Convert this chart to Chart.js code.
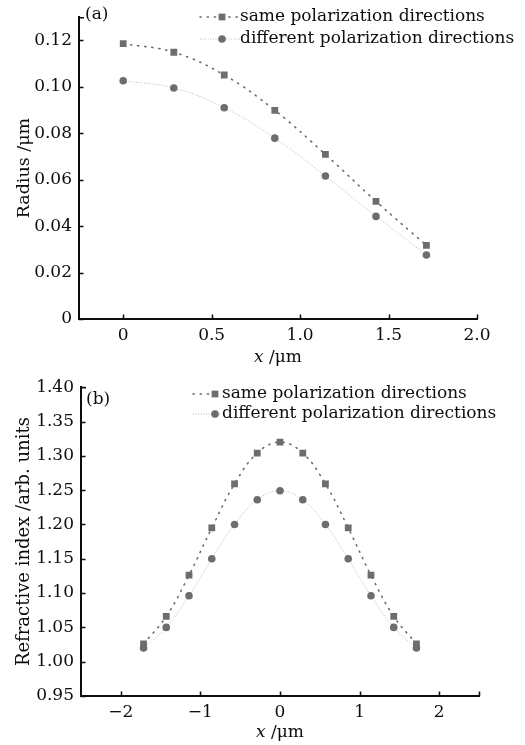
<!DOCTYPE html>
<html>
<head>
<meta charset="utf-8">
<script src="https://cdn.jsdelivr.net/npm/chart.js@4.4.1/dist/chart.umd.min.js"></script>
<style>
  html, body { margin: 0; padding: 0; background: #fff; }
  #wrap { position: relative; width: 525px; height: 745px; }
  #ca { position: absolute; left: 0; top: 0; }
  #cb { position: absolute; left: 0; top: 370px; }
</style>
</head>
<body>
<div id="wrap">
  <canvas id="ca" width="525" height="370"></canvas>
  <canvas id="cb" width="525" height="375"></canvas>
</div>
<script>
// ---- panel (a): radius vs x ----
const radiusX        = [0, 0.286, 0.571, 0.857, 1.143, 1.429, 1.714];
const radiusSame     = [0.1186, 0.1149, 0.1051, 0.0899, 0.0709, 0.0507, 0.0317];
const radiusDiff     = [0.1026, 0.0995, 0.0910, 0.0779, 0.0616, 0.0442, 0.0276];
const radiusXTicks   = [0, 0.5, 1.0, 1.5, 2.0];
const radiusXLabels  = ['0', '0.5', '1.0', '1.5', '2.0'];
const radiusYTicks   = [0, 0.02, 0.04, 0.06, 0.08, 0.10, 0.12];
const radiusYLabels  = ['0', '0.02', '0.04', '0.06', '0.08', '0.10', '0.12'];

// ---- panel (b): refractive index vs x ----
const indexX         = [-1.714, -1.429, -1.143, -0.857, -0.571, -0.286, 0, 0.286, 0.571, 0.857, 1.143, 1.429, 1.714];
const indexSame      = [1.026, 1.066, 1.126, 1.195, 1.259, 1.304, 1.320, 1.304, 1.259, 1.195, 1.126, 1.066, 1.026];
const indexDiff      = [1.020, 1.050, 1.096, 1.150, 1.200, 1.236, 1.249, 1.236, 1.200, 1.150, 1.096, 1.050, 1.020];
const indexXTicks    = [-2, -1, 0, 1, 2];
const indexXLabels   = ['\u22122', '\u22121', '0', '1', '2'];
const indexYTicks    = [0.95, 1.00, 1.05, 1.10, 1.15, 1.20, 1.25, 1.30, 1.35, 1.40];
const indexYLabels   = ['0.95', '1.00', '1.05', '1.10', '1.15', '1.20', '1.25', '1.30', '1.35', '1.40'];

const seriesNames = ['same polarization directions', 'different polarization directions'];

const FONT = 'DejaVu Serif';
const INK = '#0d0d0d';
const MARK = '#6d6d6d';

function pairs(xs, ys) { return xs.map((x, i) => ({ x: x, y: ys[i] })); }

function makeDatasets(xs, same, diff) {
  return [
    {
      label: seriesNames[0], data: pairs(xs, same),
      pointStyle: 'rect', pointRadius: 4.8, pointBackgroundColor: MARK, pointBorderWidth: 0,
      borderColor: '#6a6a6a', borderWidth: 1.6, borderDash: [1.2, 6], borderCapStyle: 'round',
      tension: 0.4, fill: false
    },
    {
      label: seriesNames[1], data: pairs(xs, diff),
      pointStyle: 'circle', pointRadius: 3.8, pointBackgroundColor: MARK, pointBorderWidth: 0,
      borderColor: '#b8b8b8', borderWidth: 1, borderDash: [1, 1.6],
      tension: 0.4, fill: false
    }
  ];
}

// Inward tick marks, axis-end serif, panel tag, x-axis title and legend
const decor = {
  id: 'decor',
  afterDraw(chart, args, o) {
    const { ctx, chartArea: a, scales: { x, y } } = chart;
    ctx.save();
    ctx.strokeStyle = INK;
    ctx.lineWidth = 1.5;
    ctx.beginPath();
    x.ticks.forEach(t => {
      const px = Math.round(x.getPixelForValue(t.value)) + 0.5;
      ctx.moveTo(px, a.bottom); ctx.lineTo(px, a.bottom - 4.5);
    });
    const rx = Math.round(a.right) + 0.5;
    ctx.moveTo(rx, a.bottom); ctx.lineTo(rx, a.bottom - 4.5);
    y.ticks.forEach(t => {
      const py = Math.round(y.getPixelForValue(t.value)) + 0.5;
      ctx.moveTo(a.left, py); ctx.lineTo(a.left + 4.5, py);
    });
    ctx.moveTo(a.left, a.top + 0.5); ctx.lineTo(a.left + 5, a.top + 0.5);
    ctx.stroke();

    ctx.fillStyle = INK;
    ctx.textBaseline = 'middle';
    ctx.textAlign = 'left';
    ctx.font = '17px "' + FONT + '"';
    ctx.fillText(o.tag, o.tagX, o.tagY);

    // x-axis title: italic x followed by unit
    const cx = (a.left + a.right) / 2 + o.titleShift;
    ctx.font = 'italic 17px "' + FONT + '"';
    const w1 = ctx.measureText('x').width;
    ctx.font = '17px "' + FONT + '"';
    const w2 = ctx.measureText(' /\u03bcm').width;
    const sx = cx - (w1 + w2) / 2;
    ctx.font = 'italic 17px "' + FONT + '"';
    ctx.fillText('x', sx, o.titleY);
    ctx.font = '17px "' + FONT + '"';
    ctx.fillText(' /\u03bcm', sx + w1, o.titleY);

    // legend
    chart.data.datasets.forEach((ds, i) => {
      const ly = o.legY[i];
      ctx.save();
      ctx.strokeStyle = ds.borderColor;
      ctx.lineWidth = ds.borderWidth;
      ctx.setLineDash(ds.borderDash);
      ctx.lineCap = ds.borderCapStyle || 'butt';
      ctx.beginPath();
      ctx.moveTo(o.legLine[0], ly); ctx.lineTo(o.legLine[1], ly);
      ctx.stroke();
      ctx.restore();
      ctx.fillStyle = ds.pointBackgroundColor;
      Chart.helpers.drawPoint(ctx, { pointStyle: ds.pointStyle, radius: ds.pointRadius, rotation: 0, borderWidth: 0 }, o.legMark, ly);
      ctx.fillStyle = INK;
      ctx.font = '17px "' + FONT + '"';
      ctx.fillText(ds.label, o.legText, ly);
    });
    ctx.restore();
  }
};

function build(id, cfg) {
  return new Chart(document.getElementById(id), {
    type: 'line',
    data: { datasets: makeDatasets(cfg.xs, cfg.same, cfg.diff) },
    options: {
      responsive: false, animation: false, devicePixelRatio: 1,
      layout: { padding: cfg.padding },
      plugins: { legend: { display: false }, tooltip: { enabled: false }, decor: cfg.decor },
      scales: {
        x: {
          type: 'linear', min: cfg.xMin, max: cfg.xMax,
          afterFit: s => { s.height = cfg.xAxisH; },
          afterBuildTicks: s => { s.ticks = cfg.xTicks.map(v => ({ value: v })); },
          ticks: { color: INK, padding: 6, maxRotation: 0, autoSkip: false,
                   font: { family: FONT, size: 17 },
                   callback: (v) => cfg.xLabels[cfg.xTicks.indexOf(v)] },
          grid: { display: false, drawTicks: false },
          border: { display: true, color: INK, width: 2 }
        },
        y: {
          type: 'linear', min: cfg.yMin, max: cfg.yMax,
          afterFit: s => { s.width = cfg.yAxisW; },
          afterBuildTicks: s => { s.ticks = cfg.yTicks.map(v => ({ value: v })); },
          ticks: { color: INK, padding: 7, autoSkip: false,
                   font: { family: FONT, size: 17 },
                   callback: (v) => cfg.yLabels[cfg.yTicks.findIndex(t => Math.abs(t - v) < 1e-9)] },
          title: { display: true, text: cfg.yTitle, color: INK,
                   font: { family: FONT, size: cfg.yTitleSize }, padding: { top: cfg.yTitlePad, bottom: 0 } },
          grid: { display: false, drawTicks: false },
          border: { display: true, color: INK, width: 2 }
        }
      }
    },
    plugins: [decor]
  });
}

build('ca', {
  xs: radiusX, same: radiusSame, diff: radiusDiff,
  xMin: -0.25, xMax: 2.0, yMin: 0, yMax: 0.13,
  xTicks: radiusXTicks, xLabels: radiusXLabels, yTicks: radiusYTicks, yLabels: radiusYLabels,
  yTitle: 'Radius /\u03bcm', yTitlePad: 14, yTitleSize: 17.5,
  padding: { top: 5, right: 48, bottom: 0, left: 0 },
  xAxisH: 51, yAxisW: 79,
  decor: { tag: '(a)', tagX: 85, tagY: 15, titleY: 358, titleShift: 0,
           legY: [17, 39], legLine: [200, 240], legMark: 222, legText: 240 }
});

build('cb', {
  xs: indexX, same: indexSame, diff: indexDiff,
  xMin: -2.5, xMax: 2.5, yMin: 0.95, yMax: 1.40,
  xTicks: indexXTicks, xLabels: indexXLabels, yTicks: indexYTicks, yLabels: indexYLabels,
  yTitle: 'Refractive index /arb. units', yTitlePad: 14, yTitleSize: 18,
  padding: { top: 14, right: 46, bottom: 0, left: 0 },
  xAxisH: 49, yAxisW: 81,
  decor: { tag: '(b)', tagX: 86, tagY: 30, titleY: 363, titleShift: 0,
           legY: [24, 44], legLine: [193, 221], legMark: 215, legText: 222 }
});
</script>
</body>
</html>
